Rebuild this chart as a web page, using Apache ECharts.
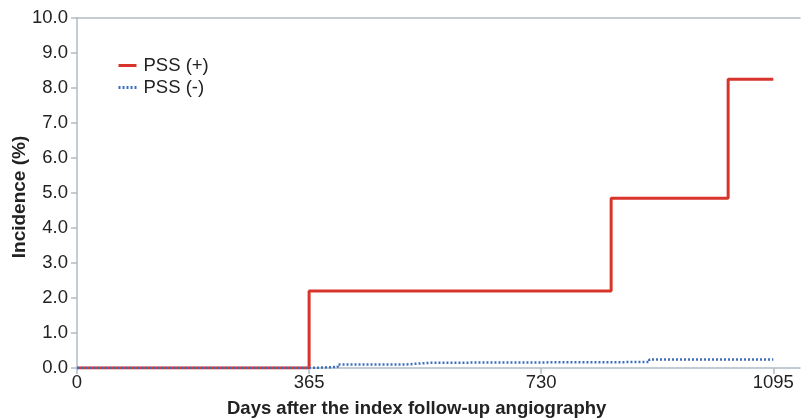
<!DOCTYPE html>
<html>
<head>
<meta charset="utf-8">
<script src="https://cdn.jsdelivr.net/npm/echarts@6/dist/echarts.min.js"></script>
<style>html,body{margin:0;padding:0;background:#fff}#c{width:803px;height:419px}</style>
</head>
<body>
<div id="c"></div>
<script>
// Data
const xTicks = [0, 365, 730, 1095];
const yTicks = [0, 1, 2, 3, 4, 5, 6, 7, 8, 9, 10];
const redName = 'PSS (+)';
const redDays = [0, 365, 840, 1024, 1095];
const redValues = [0, 2.2, 4.85, 8.25, 8.25];
const blueName = 'PSS (-)';
const blueDays = [0, 365, 410, 516, 556, 900, 1095];
const blueValues = [0, 0.03, 0.1, 0.15, 0.17, 0.24, 0.24];
const xTitle = 'Days after the index follow-up angiography';
const yTitle = 'Incidence (%)';

const axisCol = '#aebcc4';
const font = 'Liberation Sans, Arial, Helvetica, sans-serif';
const chart = echarts.init(document.getElementById('c'));
chart.setOption({
  animation: false,
  grid: { left: 77, right: 3, top: 18, bottom: 51, containLabel: false, outerBoundsMode: 'none' },
  legend: {
    orient: 'vertical', left: 112, top: 51, itemWidth: 18, itemHeight: 10, itemGap: 3,
    itemStyle: { opacity: 0 },
    lineStyle: { width: 3 },
    textStyle: { fontFamily: font, fontSize: 18.5, color: '#222', padding: [0, 0, 0, 2] },
    data: [redName, blueName]
  },
  xAxis: [{
    type: 'value', min: 0, max: 1137,
    axisLine: { lineStyle: { color: axisCol, width: 1.5 } },
    axisTick: { show: true, length: 6, customValues: xTicks, lineStyle: { color: axisCol, width: 1.5 } },
    axisLabel: { customValues: xTicks, fontFamily: font, fontSize: 18.5, color: '#222', margin: 5, formatter: v => String(v) },
    splitLine: { show: false }
  }, {
    type: 'value', min: 0, max: 1137, position: 'top',
    axisLine: { show: true, lineStyle: { color: axisCol, width: 1.5 } },
    axisTick: { show: false }, axisLabel: { show: false }, splitLine: { show: false }
  }],
  yAxis: {
    type: 'value', min: 0, max: 10, interval: 1,
    name: yTitle, nameLocation: 'middle', nameGap: 48, nameMoveOverlap: false,
    nameTextStyle: { fontFamily: font, fontSize: 19, fontWeight: 'bold', color: '#222', padding: [0, 8, 0, 0] },
    axisLine: { show: true, lineStyle: { color: axisCol, width: 1.5 } },
    axisTick: { show: true, length: 6, lineStyle: { color: axisCol, width: 1.5 } },
    axisLabel: { fontFamily: font, fontSize: 18.5, color: '#222', margin: 9, formatter: v => v.toFixed(1) },
    splitLine: { show: false }
  },
  graphic: [{
    type: 'text', left: 227, top: 399,
    style: { text: xTitle, font: 'bold 18.5px ' + font, fill: '#222' }
  }],
  series: [{
    name: redName, type: 'line', step: 'end', symbol: 'none',
    data: redDays.map((d, i) => [d, redValues[i]]),
    lineStyle: { color: '#d8342b', width: 3 },
    itemStyle: { color: '#d8342b' }
  }, {
    name: blueName, type: 'line', step: 'end', symbol: 'none',
    data: blueDays.map((d, i) => [d, blueValues[i]]),
    lineStyle: { color: '#3f6fbf', width: 2.5, type: [2, 2] },
    itemStyle: { color: '#3f6fbf' }
  }]
});
</script>
</body>
</html>
